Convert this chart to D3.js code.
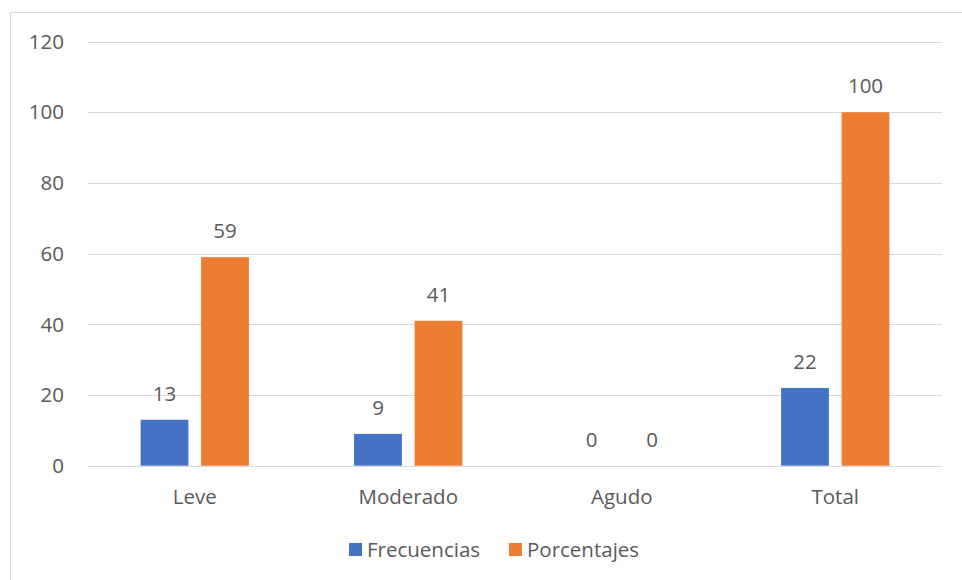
<!DOCTYPE html>
<html>
<head>
<meta charset="utf-8">
<script src="https://cdn.jsdelivr.net/npm/d3@7"></script>
<style>
  body { margin: 0; background: #fff; }
  text { font-family: "Open Sans", "Noto Sans", sans-serif; fill: #595959; }
</style>
</head>
<body>
<svg id="chart" width="962" height="580"></svg>
<script>
// Chart data
const categories = ["Leve", "Moderado", "Agudo", "Total"];
const seriesNames = ["Frecuencias", "Porcentajes"];
const frecuencias = [13, 9, 0, 22];
const porcentajes = [59, 41, 0, 100];
const yTicks = [0, 20, 40, 60, 80, 100, 120];
const colors = ["#4472C4", "#ED7D31"];

const fontSize = "20.5px";
const svg = d3.select("#chart");

// outer chart border
svg.append("rect")
    .attr("x", 10.5).attr("y", 12.5)
    .attr("width", 962).attr("height", 580)
    .attr("fill", "none").attr("stroke", "#d9d9d9").attr("stroke-width", 1);

const plot = { left: 88, right: 942, top: 41.6, bottom: 465.7 };

const x = d3.scaleBand()
    .domain(categories)
    .range([plot.left, plot.right])
    .paddingInner(0).paddingOuter(0);

const inner = d3.scaleBand()
    .domain(seriesNames)
    .range([52.6, x.bandwidth() - 52.6])
    .paddingInner(0.21);

const y = d3.scaleLinear().domain([0, 120]).range([plot.bottom, plot.top]);

// gridlines
svg.append("g").selectAll("line").data(yTicks).join("line")
    .attr("x1", plot.left).attr("x2", plot.right)
    .attr("y1", d => Math.round(y(d)) + 0.5).attr("y2", d => Math.round(y(d)) + 0.5)
    .attr("stroke", "#d9d9d9").attr("stroke-width", 1);

// y tick labels
svg.append("g").selectAll("text").data(yTicks).join("text")
    .attr("x", 64).attr("y", d => y(d))
    .attr("dy", "0.35em")
    .attr("text-anchor", "end")
    .attr("font-size", fontSize)
    .text(d => d);

// x category labels
svg.append("g").selectAll("text").data(categories).join("text")
    .attr("x", d => x(d) + x.bandwidth() / 2)
    .attr("y", 496.5)
    .attr("dy", "0.35em")
    .attr("text-anchor", "middle")
    .attr("font-size", fontSize)
    .text(d => d);

const rows = categories.map((c, i) => ({ cat: c, vals: [frecuencias[i], porcentajes[i]] }));

const groups = svg.append("g").selectAll("g").data(rows).join("g")
    .attr("transform", d => `translate(${x(d.cat)},0)`);

groups.selectAll("rect").data(d => d.vals.map((v, j) => ({ v, s: seriesNames[j], j }))).join("rect")
    .attr("x", d => inner(d.s))
    .attr("y", d => y(d.v))
    .attr("width", inner.bandwidth())
    .attr("height", d => y(0) - y(d.v))
    .attr("fill", d => colors[d.j]);

groups.selectAll("text").data(d => d.vals.map((v, j) => ({ v, s: seriesNames[j] }))).join("text")
    .attr("x", d => inner(d.s) + inner.bandwidth() / 2)
    .attr("y", d => y(d.v) - 26)
    .attr("dy", "0.35em")
    .attr("text-anchor", "middle")
    .attr("font-size", fontSize)
    .text(d => d.v);

// legend
const legend = svg.append("g");
const legendItems = [
    { name: seriesNames[0], x: 349 },
    { name: seriesNames[1], x: 509 }
];
legendItems.forEach((it, i) => {
    legend.append("rect")
        .attr("x", it.x).attr("y", 543)
        .attr("width", 13).attr("height", 13)
        .attr("fill", colors[i]);
    legend.append("text")
        .attr("x", it.x + 18).attr("y", 549.5)
        .attr("dy", "0.35em")
        .attr("font-size", fontSize)
        .text(it.name);
});
</script>
</body>
</html>
